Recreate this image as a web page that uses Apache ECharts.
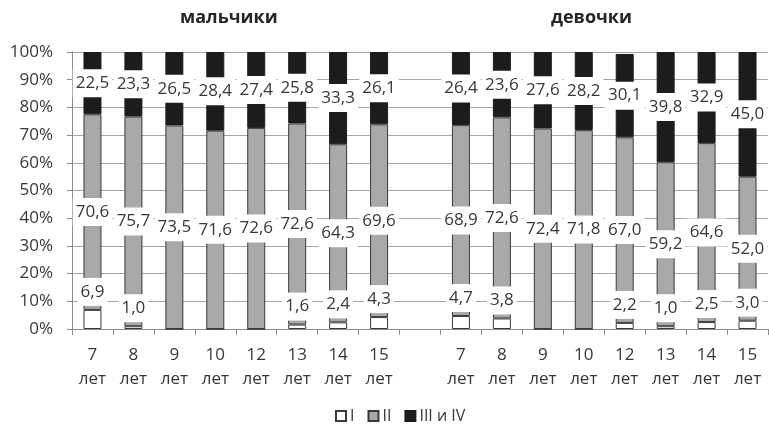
<!DOCTYPE html>
<html>
<head>
<meta charset="utf-8">
<script src="https://cdn.jsdelivr.net/npm/echarts@6/dist/echarts.min.js"></script>
<style>
  html, body { margin: 0; padding: 0; background: #ffffff; }
  #chart { width: 769px; height: 429px; }
</style>
</head>
<body>
<div id="chart"></div>
<script>
// Age groups (boys, a blank spacer, then girls)
const ages = ['7\nлет', '8\nлет', '9\nлет', '10\nлет', '12\nлет', '13\nлет', '14\nлет', '15\nлет'];
const categories = ages.concat([''], ages);

// Share of each health group, %
const boysI     = [6.9, 1.0, 0, 0, 0, 1.6, 2.4, 4.3];
const boysII    = [70.6, 75.7, 73.5, 71.6, 72.6, 72.6, 64.3, 69.6];
const boysIII   = [22.5, 23.3, 26.5, 28.4, 27.4, 25.8, 33.3, 26.1];
const girlsI    = [4.7, 3.8, 0, 0, 2.2, 1.0, 2.5, 3.0];
const girlsII   = [68.9, 72.6, 72.4, 71.8, 67.0, 59.2, 64.6, 52.0];
const girlsIII  = [26.4, 23.6, 27.6, 28.2, 30.1, 39.8, 32.9, 45.0];

const seriesNames = ['I', 'II', 'III и IV'];
const groupTitles = ['мальчики', 'девочки'];

const FONT = '"Open Sans", "DejaVu Sans", sans-serif';
const TEXT = '#383838';

function joinGroups(b, g) {
  return b.concat(['-'], g).map(v => v === '-' ? '-' : { value: v, label: { show: v > 0 } });
}
function fmt(p) {
  return Number(p.value).toFixed(1).replace('.', ',');
}
const labelBase = {
  show: true,
  formatter: fmt,
  fontFamily: FONT,
  fontSize: 17,
  color: TEXT,
  backgroundColor: '#ffffff',
  padding: [5, 3, 5, 3],
  lineHeight: 18
};

const chart = echarts.init(document.getElementById('chart'), null, { renderer: 'canvas' });
chart.setOption({
  backgroundColor: '#ffffff',
  animation: false,
  textStyle: { fontFamily: FONT },
  graphic: [
    { type: 'text', left: 180, top: 9, style: { text: groupTitles[0], font: 'bold 18px ' + FONT, fill: '#262626' } },
    { type: 'text', left: 551, top: 9, style: { text: groupTitles[1], font: 'bold 18px ' + FONT, fill: '#262626' } }
  ],
  legend: {
    bottom: 0,
    left: 330,
    itemWidth: 10,
    itemHeight: 10,
    itemGap: 13,
    icon: 'rect',
    textStyle: { fontFamily: FONT, fontSize: 16, color: TEXT, padding: [0, 0, 0, -1] },
    data: seriesNames
  },
  grid: { left: 72, right: 1, top: 52, bottom: 100, containLabel: false },
  xAxis: {
    type: 'category',
    data: categories,
    axisLine: { lineStyle: { color: '#8c8c8c', width: 1 } },
    axisTick: { show: true, length: 6, lineStyle: { color: '#8c8c8c' }, alignWithLabel: false },
    axisLabel: { interval: 0, fontFamily: FONT, fontSize: 17, color: TEXT, lineHeight: 24, margin: 14 }
  },
  yAxis: {
    type: 'value',
    min: 0,
    max: 100,
    interval: 10,
    axisLine: { show: true, lineStyle: { color: '#8c8c8c' } },
    axisTick: { show: true, inside: false, length: 5, lineStyle: { color: '#8c8c8c' } },
    splitLine: { lineStyle: { color: '#a6a6a6', width: 1 } },
    axisLabel: { formatter: '{value}%', fontFamily: FONT, fontSize: 17, color: TEXT, margin: 19 }
  },
  series: [
    {
      name: seriesNames[0], type: 'bar', stack: 'all', barWidth: 18, z: 5,
      itemStyle: { color: '#ffffff', borderColor: '#3a3a3a', borderWidth: 1 },
      label: Object.assign({}, labelBase, { position: 'top', distance: 4 }),
      data: joinGroups(boysI, girlsI)
    },
    {
      name: seriesNames[1], type: 'bar', stack: 'all', barWidth: 18, z: 4,
      itemStyle: { color: '#a8a9ab', borderColor: '#3a3a3a', borderWidth: 1 },
      label: Object.assign({}, labelBase, { position: 'inside' }),
      data: joinGroups(boysII, girlsII)
    },
    {
      name: seriesNames[2], type: 'bar', stack: 'all', barWidth: 18, z: 3,
      itemStyle: { color: '#1c1c1c', borderColor: '#1c1c1c', borderWidth: 1 },
      label: Object.assign({}, labelBase, { position: 'inside' }),
      data: joinGroups(boysIII, girlsIII)
    }
  ]
});
</script>
</body>
</html>
